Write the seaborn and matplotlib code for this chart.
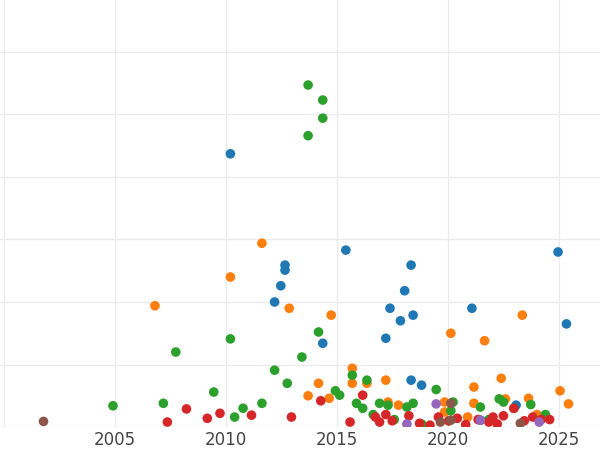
import numpy as np
import pandas as pd
from matplotlib import pyplot as plt
import seaborn as sns

# Points, per colour group
blue_x = [2010.20, 2012.66, 2012.66, 2012.47, 2012.19, 2014.36, 2015.40, 2018.34, 2018.05, 2017.39,
          2017.86, 2018.43, 2017.20, 2018.34, 2018.81, 2021.08, 2024.96, 2025.34, 2023.07, 2021.46]
blue_y = [4.37, 2.59, 2.51, 2.26, 2.00, 1.34, 2.83, 2.59, 2.18, 1.90,
          1.70, 1.79, 1.42, 0.75, 0.67, 1.90, 2.80, 1.65, 0.35, 0.11]

orange_x = [2006.80, 2010.20, 2011.62, 2012.85, 2014.74, 2013.70, 2014.17, 2014.65, 2015.69, 2015.69,
            2016.35, 2017.20, 2020.13, 2021.65, 2023.35, 2022.40, 2021.17, 2025.05, 2025.43, 2023.63,
            2019.85, 2021.17, 2019.85, 2017.30, 2017.77, 2020.89, 2024.01, 2022.59]
orange_y = [1.94, 2.40, 2.94, 1.90, 1.79, 0.50, 0.70, 0.46, 0.94, 0.70,
            0.70, 0.75, 1.50, 1.38, 1.79, 0.78, 0.64, 0.58, 0.37, 0.46,
            0.40, 0.38, 0.24, 0.40, 0.35, 0.16, 0.20, 0.45]

green_x = [2013.70, 2014.36, 2014.36, 2013.70, 2014.17, 2007.74, 2010.20, 2013.42, 2012.19, 2012.76,
           2009.45, 2004.91, 2007.18, 2010.77, 2011.62, 2010.39, 2015.69, 2014.93, 2015.12, 2015.88,
           2016.35, 2016.92, 2017.30, 2017.58, 2018.15, 2018.43, 2019.47, 2020.13, 2020.23, 2021.46,
           2022.31, 2022.50, 2022.97, 2023.73, 2024.39, 2018.81, 2016.63, 2016.16, 2020.04, 2021.84]
green_y = [5.47, 5.23, 4.94, 4.66, 1.52, 1.20, 1.41, 1.12, 0.91, 0.70,
           0.56, 0.34, 0.38, 0.30, 0.38, 0.16, 0.83, 0.58, 0.51, 0.38,
           0.75, 0.38, 0.35, 0.12, 0.32, 0.38, 0.60, 0.26, 0.40, 0.32,
           0.45, 0.40, 0.30, 0.36, 0.20, 0.05, 0.20, 0.30, 0.10, 0.12]

red_x = [2007.36, 2008.22, 2009.16, 2009.73, 2011.15, 2012.95, 2014.27, 2015.59, 2016.16, 2016.73,
         2016.92, 2017.20, 2017.49, 2018.24, 2018.72, 2019.19, 2019.57, 2020.04, 2020.42, 2020.80,
         2021.36, 2021.84, 2022.03, 2022.50, 2022.97, 2023.44, 2023.82, 2024.20, 2024.58, 2022.22]
red_y = [0.08, 0.29, 0.14, 0.22, 0.19, 0.16, 0.42, 0.08, 0.51, 0.16,
         0.08, 0.20, 0.10, 0.18, 0.06, 0.03, 0.16, 0.10, 0.14, 0.04,
         0.12, 0.08, 0.16, 0.18, 0.30, 0.10, 0.16, 0.12, 0.12, 0.05]

purple_x = [2018.15, 2019.47, 2021.46, 2024.11]
purple_y = [0.05, 0.37, 0.11, 0.08]

brown_x = [2001.78, 2020.13, 2019.66, 2020.13, 2023.26]
brown_y = [0.09, 0.38, 0.08, 0.11, 0.06]

groups = {'a': (blue_x, blue_y), 'b': (orange_x, orange_y), 'c': (green_x, green_y),
          'd': (red_x, red_y), 'e': (purple_x, purple_y), 'f': (brown_x, brown_y)}
palette = {'a': '#1f77b4', 'b': '#ff7f0e', 'c': '#2ca02c', 'd': '#d62728',
           'e': '#9467bd', 'f': '#8c564b'}

rows = []
for k, (xs, ys) in groups.items():
    for x, y in zip(xs, ys):
        rows.append((x, y, k))
df = pd.DataFrame(rows, columns=['year', 'value', 'group'])

sns.set_style('white')
fig = plt.figure(figsize=(6, 4.5), dpi=100)
ax = fig.add_axes([0, 0.051, 1, 0.949])
sns.scatterplot(data=df, x='year', y='value', hue='group', palette=palette,
                s=48, edgecolor='none', legend=False, ax=ax, zorder=3)

ax.set_xlim(1999.82, 2026.85)
ax.set_ylim(0, 6.83)
ax.set_xticks([2000, 2005, 2010, 2015, 2020, 2025])
ax.set_xticklabels(['', '2005', '2010', '2015', '2020', '2025'])
ax.set_yticks(np.arange(0, 7))
ax.set_yticklabels([])
ax.grid(True, color='#ebebeb', linewidth=1)
ax.tick_params(axis='x', length=0, labelsize=12, labelcolor='#444444', pad=3)
ax.tick_params(axis='y', length=0)
ax.set_xlabel('')
ax.set_ylabel('')
for s in ax.spines.values():
    s.set_visible(False)

fig.savefig('out.png', dpi=100)
